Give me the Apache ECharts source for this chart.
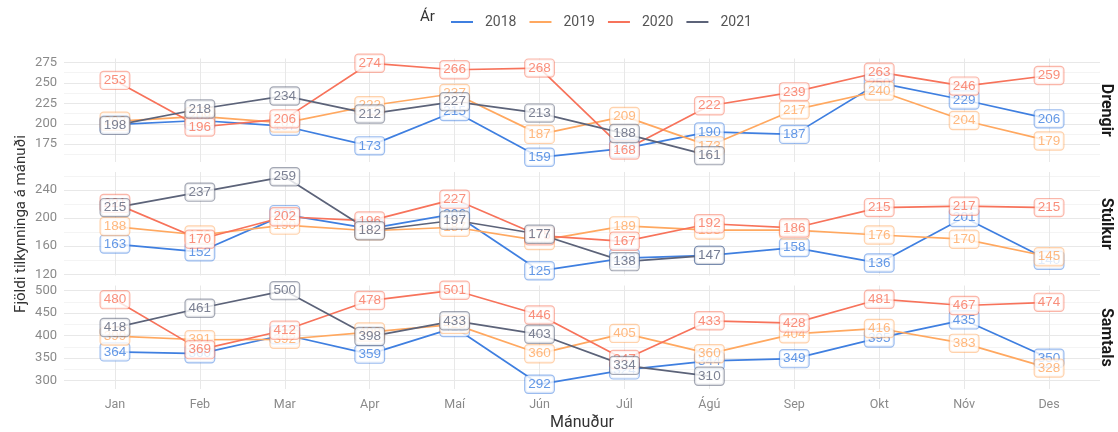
<!DOCTYPE html>
<html>
<head>
<meta charset="utf-8">
<script src="https://cdn.jsdelivr.net/npm/echarts@6/dist/echarts.min.js"></script>
<style>
  html, body { margin: 0; padding: 0; background: #fff; }
  #main { width: 1118px; height: 432px; }
</style>
</head>
<body>
<div id="main"></div>
<script>
// Mánuðir
var months = ["Jan", "Feb", "Mar", "Apr", "Maí", "Jún", "Júl", "Ágú", "Sep", "Okt", "Nóv", "Des"];
var years = ["2018", "2019", "2020", "2021"];
var colors = ["#3f7fe0", "#ffa860", "#f7735b", "#5c6379"];
var borders = ["rgba(63,127,224,0.65)", "rgba(255,168,96,0.65)", "rgba(247,115,91,0.65)", "rgba(92,99,121,0.7)"];

// Drengir
var drengir2018 = [199, 204, 197, 173, 215, 159, 170, 190, 187, 250, 229, 206];
var drengir2019 = [203, 209, 201, 222, 237, 187, 209, 173, 217, 240, 204, 179];
var drengir2020 = [253, 196, 206, 274, 266, 268, 168, 222, 239, 263, 246, 259];
var drengir2021 = [198, 218, 234, 212, 227, 213, 188, 161];

// Stúlkur
var stulkur2018 = [163, 152, 205, 185, 206, 125, 143, 147, 158, 136, 201, 140];
var stulkur2019 = [188, 176, 190, 182, 187, 168, 189, 183, 183, 176, 170, 145];
var stulkur2020 = [221, 170, 202, 196, 227, 175, 167, 192, 186, 215, 217, 215];
var stulkur2021 = [215, 237, 259, 182, 197, 177, 138, 147];

// Samtals
var samtals2018 = [364, 360, 402, 359, 418, 292, 324, 344, 349, 395, 435, 350];
var samtals2019 = [399, 391, 392, 408, 425, 360, 405, 360, 404, 416, 383, 328];
var samtals2020 = [480, 369, 412, 478, 501, 446, 347, 433, 428, 481, 467, 474];
var samtals2021 = [418, 461, 500, 398, 433, 403, 334, 310];

// y-ásar
var drengirTicks = [175, 200, 225, 250, 275];
var drengirMinor = [162.5, 187.5, 212.5, 237.5, 262.5];
var stulkurTicks = [120, 160, 200, 240];
var stulkurMinor = [140, 180, 220, 260];
var samtalsTicks = [300, 350, 400, 450, 500];
var samtalsMinor = [325, 375, 425, 475];

var panels = [
  { name: "Drengir", data: [drengir2018, drengir2019, drengir2020, drengir2021], ticks: drengirTicks, minor: drengirMinor, top: 58.5 },
  { name: "Stúlkur", data: [stulkur2018, stulkur2019, stulkur2020, stulkur2021], ticks: stulkurTicks, minor: stulkurMinor, top: 172 },
  { name: "Samtals", data: [samtals2018, samtals2019, samtals2020, samtals2021], ticks: samtalsTicks, minor: samtalsMinor, top: 285.5 }
];

var panelH = 103.5;
var gridLine = "#e8e8e8";
var labelFont = "Liberation Sans";
var textFont = "Roboto";

var myChart = echarts.init(document.getElementById("main"));

var grids = [], xAxes = [], yAxes = [], series = [], graphics = [];
var monthIdx = months.map(function (m, i) { return i; });

panels.forEach(function (p, pi) {
  // ggplot stækkar ás um 5%
  var all = [].concat.apply([], p.data);
  var lo = Math.min.apply(null, all), hi = Math.max.apply(null, all);
  var pad = (hi - lo) * 0.05;
  var ymin = lo - pad, ymax = hi + pad;

  grids.push({ left: 64, right: 18, top: p.top, height: panelH });

  xAxes.push({
    gridIndex: pi, type: "value", min: -0.6, max: 11.6,
    axisLine: { show: false },
    axisTick: { show: false, customValues: monthIdx },
    axisLabel: {
      show: pi === 2, customValues: monthIdx, margin: 9,
      color: "#8a8a8a", fontSize: 12.5, fontFamily: textFont,
      formatter: function (v) { return months[Math.round(v)]; }
    },
    splitLine: { show: true, lineStyle: { color: gridLine, width: 1 } }
  });

  yAxes.push({
    gridIndex: pi, type: "value", min: ymin, max: ymax,
    axisLine: { show: false },
    axisTick: { show: false, customValues: p.ticks },
    axisLabel: { customValues: p.ticks, margin: 7, color: "#8a8a8a", fontSize: 13, fontFamily: textFont },
    splitLine: { show: true, lineStyle: { color: gridLine, width: 1 } }
  });
  yAxes.push({
    gridIndex: pi, type: "value", min: ymin, max: ymax, position: "right",
    axisLine: { show: false },
    axisTick: { show: false, customValues: p.minor },
    axisLabel: { show: false },
    splitLine: { show: true, lineStyle: { color: "#f1f1f1", width: 0.8 } }
  });

  p.data.forEach(function (vals, k) {
    var pts = vals.map(function (v, i) { return [i, v]; });
    series.push({
      name: years[k], type: "line", xAxisIndex: pi, yAxisIndex: pi * 2,
      data: pts, symbol: "none", z: 2, animation: false,
      itemStyle: { color: colors[k] },
      lineStyle: { color: colors[k], width: 1.7 }
    });
  });
  // merkingar ofan á allar línur
  p.data.forEach(function (vals, k) {
    var pts = vals.map(function (v, i) { return [i, v]; });
    series.push({
      type: "scatter", xAxisIndex: pi, yAxisIndex: pi * 2,
      data: pts, symbolSize: 1, z: 3 + k, animation: false, silent: true,
      itemStyle: { color: "rgba(0,0,0,0)" },
      label: {
        show: true, position: "inside",
        formatter: function (d) { return d.value[1]; },
        color: colors[k], fontSize: 13.5, fontFamily: labelFont,
        backgroundColor: "#fff", borderColor: borders[k], borderWidth: 1.2,
        borderRadius: 3, padding: [2, 3, 1, 3], lineHeight: 14
      },
      labelLayout: { hideOverlap: false }
    });
  });

  graphics.push({
    type: "text", x: 1106, y: p.top + panelH / 2, rotation: -Math.PI / 2,
    style: {
      text: p.name, fill: "#1a1a1a", font: "bold 16px " + textFont,
      textAlign: "center", textVerticalAlign: "middle"
    }
  });
});

graphics.push({
  type: "text", x: 21, y: 224, rotation: Math.PI / 2,
  style: { text: "Fjöldi tilkynninga á mánuði", fill: "#333", font: "15px " + textFont, textAlign: "center", textVerticalAlign: "middle" }
});
graphics.push({
  type: "text", x: 582, y: 423,
  style: { text: "Mánuður", fill: "#333", font: "16px " + textFont, textAlign: "center", textVerticalAlign: "middle" }
});
graphics.push({
  type: "text", x: 420, y: 17,
  style: { text: "Ár", fill: "#333", font: "15px " + textFont, textAlign: "left", textVerticalAlign: "middle" }
});

var option = {
  animation: false,
  legend: {
    data: years, left: 446, top: 10, icon: "rect",
    itemWidth: 22, itemHeight: 2, itemGap: 13,
    textStyle: { color: "#555", fontSize: 14, fontFamily: textFont, padding: [0, 0, 0, 7] }
  },
  grid: grids,
  xAxis: xAxes,
  yAxis: yAxes,
  series: series,
  graphic: graphics
};

myChart.setOption(option);
</script>
</body>
</html>
